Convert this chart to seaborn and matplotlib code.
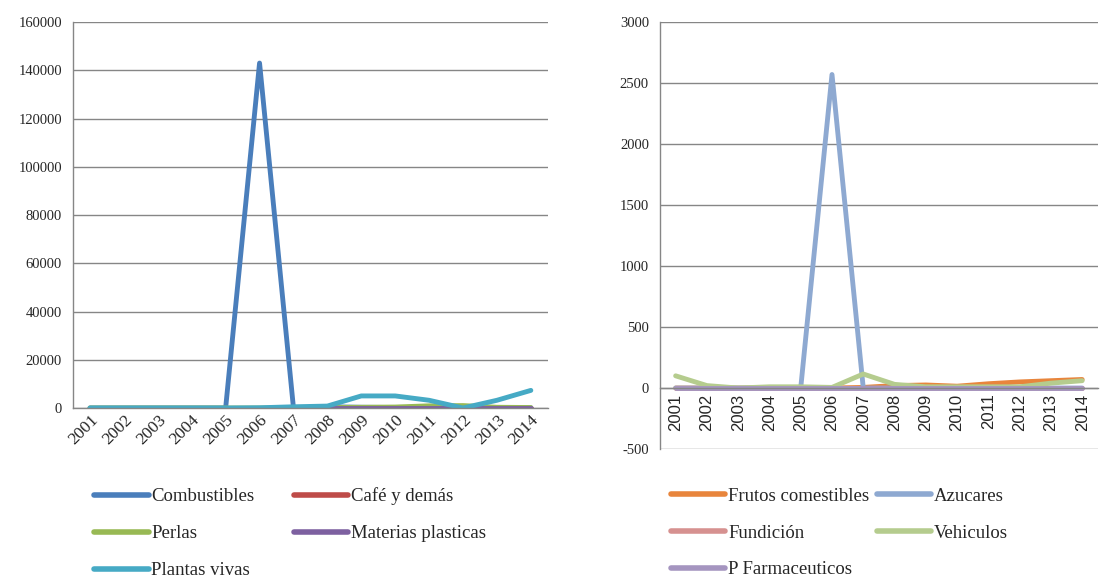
import numpy as np
import pandas as pd
import matplotlib
matplotlib.use("Agg")
import matplotlib.pyplot as plt
import seaborn as sns

years = [str(y) for y in range(2001, 2015)]

# left chart
combustibles = [0, 0, 0, 0, 0, 143000, 0, 500, 300, 200, 200, 100, 100, 100]
cafe = [0, 0, 0, 0, 0, 0, 0, 0, 0, 0, 0, 0, 0, 0]
perlas = [0, 0, 0, 0, 0, 0, 100, 200, 300, 400, 900, 1000, 300, 200]
materias = [0, 0, 0, 0, 0, 0, 0, 0, 0, 0, 0, 0, 0, 0]
plantas = [0, 0, 0, 0, 0, 100, 500, 800, 5000, 5000, 3200, 0, 3200, 7300]

# right chart
frutos = [0, 0, 0, 0, 0, 0, 5, 20, 25, 15, 35, 50, 60, 70]
azucares = [0, 0, 0, 0, 0, 2570, 0, 0, 0, 0, 0, 0, 0, 0]
fundicion = [0, 0, 0, 0, 0, 0, 0, 0, 0, 0, 0, 0, 0, 0]
vehiculos = [100, 20, 0, 10, 10, 5, 115, 30, 10, 10, 10, 10, 40, 60]
farma = [0, 0, 0, 0, 0, 0, 0, 0, 0, 0, 0, 0, 0, 0]

left_names = ["Combustibles", "Café y demás", "Perlas", "Materias plasticas", "Plantas vivas"]
left_vals = [combustibles, cafe, perlas, materias, plantas]
left_colors = ["#4A7EBB", "#BE4B48", "#98B954", "#7D60A0", "#46AAC5"]

right_names = ["Frutos comestibles", "Azucares", "Fundición", "Vehiculos", "P Farmaceuticos"]
right_vals = [frutos, azucares, fundicion, vehiculos, farma]
right_colors = ["#E8853C", "#8EA9D1", "#D69190", "#B5CC8E", "#A595C0"]


def long_form(names, vals):
    rows = []
    for n, v in zip(names, vals):
        for i, y in enumerate(v):
            rows.append({"pos": i, "value": y, "serie": n})
    return pd.DataFrame(rows)


sns.set_style("white")
plt.rcParams['font.family'] = ['Liberation Serif', 'DejaVu Serif']

fig = plt.figure(figsize=(11, 5.77), dpi=100)
ax1 = fig.add_axes([0.0664, 0.2929, 0.4316, 0.6689])
ax2 = fig.add_axes([0.6, 0.2218, 0.398, 0.74])

grid_c = "#868686"


def style_axis(ax, ylim, yticks):
    ax.set_xlim(-0.5, 13.5)
    ax.set_ylim(*ylim)
    ax.set_yticks(yticks)
    ax.set_yticklabels([str(t) for t in yticks], fontsize=10.5)
    ax.grid(axis='y', color=grid_c, linewidth=1)
    ax.set_axisbelow(True)
    for s in ["top", "right"]:
        ax.spines[s].set_visible(False)
    for s in ["left", "bottom"]:
        ax.spines[s].set_color(grid_c)
        ax.spines[s].set_linewidth(1)
    ax.set_xticks(range(14))
    ax.set_xticks(np.arange(-0.5, 14, 1), minor=True)
    ax.tick_params(axis='x', which='major', length=0, pad=4)
    ax.tick_params(axis='x', which='minor', length=5, color=grid_c, direction='out')
    ax.tick_params(axis='y', length=5, color=grid_c, direction='out', pad=3)
    ax.set_xlabel("")
    ax.set_ylabel("")


df1 = long_form(left_names, left_vals)
sns.lineplot(data=df1, x="pos", y="value", hue="serie", hue_order=left_names,
             palette=left_colors, linewidth=3.5, ax=ax1, legend=True)
style_axis(ax1, (0, 160000), list(range(0, 160001, 20000)))
ax1.set_xticklabels(years, rotation=45, ha='right', rotation_mode='anchor', fontsize=12.5)
ax1.tick_params(axis='x', which='major', pad=3)

df2 = long_form(right_names, right_vals)
sns.lineplot(data=df2, x="pos", y="value", hue="serie", hue_order=right_names,
             palette=right_colors, linewidth=3.5, ax=ax2, legend=True)
style_axis(ax2, (-500, 3000), list(range(-500, 3001, 500)))
ax2.spines['bottom'].set_position(('data', 0))
ax2.set_xticklabels(years, rotation=90, fontsize=12, va='top', ha='center',
                    family=['Liberation Sans', 'DejaVu Sans'])

legend_cfg = [(ax1, (0.0857, 0.155), 2.1), (ax2, (0.61, 0.155), 0.4)]
for ax, anchor, colsp in legend_cfg:
    h, l = ax.get_legend_handles_labels()
    ax.get_legend().remove()
    for hh in h:
        hh.set_linewidth(4)
        hh.set_solid_capstyle('round')
    # reorder so that matplotlib's column filling reads row by row
    order = [0, 2, 4, 1, 3]
    h = [h[i] for i in order]
    l = [l[i] for i in order]
    fig.legend(h, l, loc='upper left', bbox_to_anchor=anchor, ncol=2, frameon=False,
               fontsize=13.5, handlelength=2.9, handletextpad=0.15, columnspacing=colsp,
               labelspacing=1.05, borderpad=0, borderaxespad=0)

fig.savefig("out.png", dpi=100)
